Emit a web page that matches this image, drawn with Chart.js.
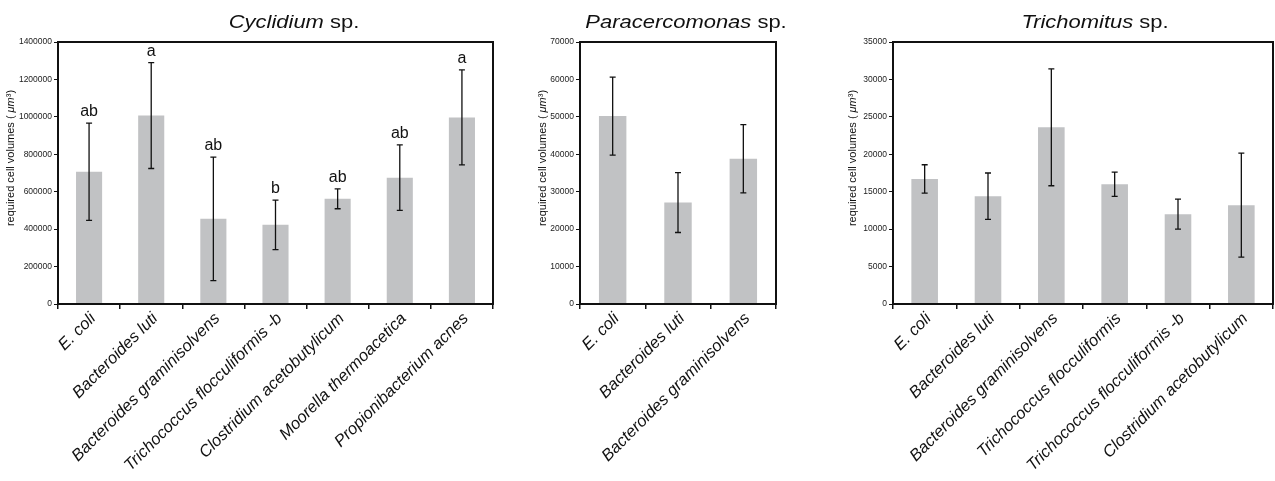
<!DOCTYPE html>
<html>
<head>
<meta charset="utf-8">
<script src="https://cdn.jsdelivr.net/npm/chart.js@4/dist/chart.umd.min.js"></script>
<style>
body{margin:0;background:#fff;}
#wrap{position:relative;width:1275px;height:481px;overflow:hidden;}
canvas{position:absolute;top:0;}
</style>
</head>
<body>
<div id="wrap">
<canvas id="c1" width="500" height="481" style="left:0px;width:500px;height:481px"></canvas>
<canvas id="c2" width="270" height="481" style="left:530px;width:270px;height:481px"></canvas>
<canvas id="c3" width="435" height="481" style="left:840px;width:435px;height:481px"></canvas>
</div>
<script>
//Cyclidium sp. data
var cycLabels = ["E. coli", "Bacteroides luti", "Bacteroides graminisolvens", "Trichococcus flocculiformis -b", "Clostridium acetobutylicum", "Moorella thermoacetica", "Propionibacterium acnes"];
var cycMeans = [707000, 1007000, 455000, 423000, 562000, 675000, 997000];
var cycErrors = [260000, 283000, 330000, 132000, 53000, 175000, 254000];
var cycLetters = ["ab", "a", "ab", "b", "ab", "ab", "a"];
var cycYMax = 1400000, cycYStep = 200000;

//Paracercomonas sp. data
var parLabels = ["E. coli", "Bacteroides luti", "Bacteroides graminisolvens"];
var parMeans = [50200, 27100, 38800];
var parErrors = [10400, 8000, 9100];
var parYMax = 70000, parYStep = 10000;

//Trichomitus sp. data
var triLabels = ["E. coli", "Bacteroides luti", "Bacteroides graminisolvens", "Trichococcus flocculiformis", "Trichococcus flocculiformis -b", "Clostridium acetobutylicum"];
var triMeans = [16700, 14400, 23600, 16000, 12000, 13200];
var triErrors = [1900, 3100, 7800, 1630, 2000, 6950];
var triYMax = 35000, triYStep = 5000;

Chart.defaults.font.family = "'Liberation Sans', Arial, sans-serif";

//black frame round the plot area
var boxPlugin = {
	id: "box",
	afterDraw: function(chart) {
		var a = chart.chartArea, c = chart.ctx;
		c.save();
		c.strokeStyle = "#111";
		c.lineWidth = 2;
		c.strokeRect(a.left, a.top, a.right - a.left, a.bottom - a.top);
		c.restore();
	}
};

//error bars + significance letters
var errPlugin = {
	id: "err",
	afterDatasetsDraw: function(chart, args, opts) {
		var c = chart.ctx, ys = chart.scales.y;
		var meta = chart.getDatasetMeta(0);
		c.save();
		c.strokeStyle = "#111";
		c.lineWidth = 1.3;
		for (var i = 0; i < opts.means.length; i++) {
			var x = meta.data[i].x;
			var top = ys.getPixelForValue(opts.means[i] + opts.errors[i]);
			var bot = ys.getPixelForValue(opts.means[i] - opts.errors[i]);
			c.beginPath();
			c.moveTo(x, top); c.lineTo(x, bot);
			c.moveTo(x - 3, top); c.lineTo(x + 3, top);
			c.moveTo(x - 3, bot); c.lineTo(x + 3, bot);
			c.stroke();
			if (opts.letters) {
				c.fillStyle = "#111";
				c.font = "16px 'Liberation Sans', Arial, sans-serif";
				c.textAlign = "center";
				c.textBaseline = "alphabetic";
				c.fillText(opts.letters[i], x, top - 7);
			}
		}
		c.restore();
	}
};

//title (italic genus + " sp.") and y axis label
var textPlugin = {
	id: "texts",
	afterDraw: function(chart, args, opts) {
		var c = chart.ctx;
		c.save();
		c.fillStyle = "#111";
		c.translate(opts.titleX, 28);
		c.scale(1.22, 1);
		c.font = "italic 18px 'Liberation Sans', Arial, sans-serif";
		var w1 = c.measureText(opts.genus).width;
		c.font = "18px 'Liberation Sans', Arial, sans-serif";
		var w2 = c.measureText(" sp.").width;
		var x0 = -(w1 + w2) / 2;
		c.textAlign = "left";
		c.font = "italic 18px 'Liberation Sans', Arial, sans-serif";
		c.fillText(opts.genus, x0, 0);
		c.font = "18px 'Liberation Sans', Arial, sans-serif";
		c.fillText(" sp.", x0 + w1, 0);
		c.restore();

		c.save();
		c.fillStyle = "#111";
		c.translate(opts.labelX, 158);
		c.rotate(-Math.PI / 2);
		c.textBaseline = "middle";
		var p1 = "required cell volumes ( ", p2 = "μm", p3 = "³)";
		var f = "11px 'Liberation Sans', Arial, sans-serif", fi = "italic " + f;
		c.font = f; var a = c.measureText(p1).width;
		c.font = fi; var b = c.measureText(p2).width;
		c.font = f; var d = c.measureText(p3).width;
		var s = -(a + b + d) / 2;
		c.font = f; c.fillText(p1, s, 0);
		c.font = fi; c.fillText(p2, s + a, 0);
		c.font = f; c.fillText(p3, s + a + b, 0);
		c.restore();
	}
};

function makeChart(id, labels, means, errors, letters, ymax, ystep, yWidth, padRight, genus, titleX, labelX) {
	var ctx = document.getElementById(id);
	return new Chart(ctx, {
		type: "bar",
		data: {
			labels: labels,
			datasets: [{
				data: means,
				backgroundColor: "#c1c2c4",
				borderWidth: 0,
				barPercentage: 0.42,
				categoryPercentage: 1
			}]
		},
		options: {
			responsive: false,
			animation: false,
			devicePixelRatio: 1,
			layout: { padding: { top: 42, right: padRight, left: 0, bottom: 0 } },
			plugins: {
				legend: { display: false },
				tooltip: { enabled: false },
				err: { means: means, errors: errors, letters: letters },
				texts: { genus: genus, titleX: titleX, labelX: labelX }
			},
			scales: {
				x: {
					grid: { drawOnChartArea: false, offset: true, tickLength: 5, color: "#111", lineWidth: 1.5 },
					border: { display: true, color: "#111", width: 2 },
					ticks: {
						minRotation: 45, maxRotation: 45, autoSkip: false, padding: 0,
						labelOffset: 4,
						color: "#111",
						font: { size: 16.5, style: "italic" }
					},
					afterFit: function(s) { s.height = 177; }
				},
				y: {
					min: 0, max: ymax,
					grid: { drawOnChartArea: false, tickLength: 4, color: "#111", lineWidth: 1 },
					border: { display: true, color: "#111", width: 2 },
					ticks: {
						stepSize: ystep, padding: 2, color: "#222",
						font: { size: 8.5 },
						callback: function(v) { return String(v); }
					},
					afterFit: function(s) { s.width = yWidth; }
				}
			}
		},
		plugins: [errPlugin, boxPlugin, textPlugin]
	});
}

makeChart("c1", cycLabels, cycMeans, cycErrors, cycLetters, cycYMax, cycYStep, 58, 7, "Cyclidium", 294, 11);
makeChart("c2", parLabels, parMeans, parErrors, null, parYMax, parYStep, 50, 24, "Paracercomonas", 156, 13);
makeChart("c3", triLabels, triMeans, triErrors, null, triYMax, triYStep, 53, 2, "Trichomitus", 255, 13);
</script>
</body>
</html>
